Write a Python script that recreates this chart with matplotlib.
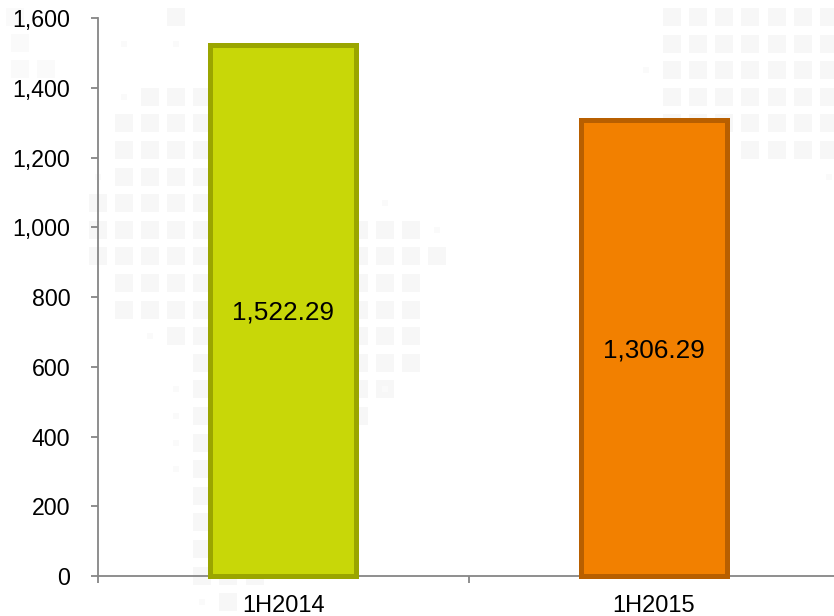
import matplotlib
matplotlib.use('Agg')
import matplotlib.pyplot as plt
from matplotlib.patches import Rectangle
from matplotlib.ticker import FuncFormatter

plt.rcParams['font.family'] = ['Liberation Sans', 'DejaVu Sans']

periods = ['1H2014', '1H2015']
values = [1522.29, 1306.29]
value_labels = ['1,522.29', '1,306.29']
fill_colors = ['#C8D708', '#F28000']
edge_colors = ['#9AA500', '#B85F00']
y_ticks = [0, 200, 400, 600, 800, 1000, 1200, 1400, 1600]

# mapa de fundo: linha -> colunas da grade de quadradinhos
map_squares = {
    0: [3, 22, 23, 24, 25, 26, 27, 28],
    1: [22, 23, 24, 25, 26, 27, 28],
    2: [22, 23, 24, 25, 26, 27, 28],
    3: [2, 3, 4, 22, 23, 24, 25, 26, 27, 28],
    4: [1, 2, 3, 4, 22, 23, 24, 25, 26, 27, 28],
    5: [1, 2, 3, 4, 25, 26, 27, 28],
    6: [1, 2, 3, 4],
    7: [0, 1, 2, 3, 4],
    8: [0, 1, 2, 3, 4, 10, 11, 12],
    9: [0, 1, 2, 3, 4, 10, 11, 12, 13],
    10: [1, 2, 3, 4, 10, 11, 12],
    11: [1, 2, 3, 4, 10, 11, 12],
    12: [3, 4, 10, 11, 12],
    13: [4, 10, 11, 12],
    14: [4, 10, 11],
    15: [4, 10],
    16: [4],
    17: [4],
    18: [4],
    19: [4],
    20: [4],
    21: [4, 5, 6],
    22: [5],
}
map_dots = [(1, 1), (1, 3), (3, 1), (6, 0), (7, 11), (12, 2), (14, 3), (14, 11),
            (15, 3), (16, 3), (17, 3), (22, 4), (8, 13), (2, 21), (6, 28)]
corner_squares = [(15, 17), (20, 43), (20, 69), (46, 69)]


def desenhar_fundo(fig):
    bg = fig.add_axes([0, 0, 1, 1], zorder=0)
    bg.set_xlim(0, 834)
    bg.set_ylim(616, 0)
    bg.axis('off')
    for row, cols in map_squares.items():
        for col in cols:
            x = 98 + 26.1 * col
            y = 17 + 26.6 * row
            bg.add_patch(Rectangle((x - 9, y - 9), 18, 18, fc='#F7F7F7', ec='none'))
    for row, col in map_dots:
        x = 98 + 26.1 * col
        y = 17 + 26.6 * row
        bg.add_patch(Rectangle((x - 3, y - 3), 6, 6, fc='#FAFAFA', ec='none'))
    for x, y in corner_squares:
        bg.add_patch(Rectangle((x - 9, y - 9), 18, 18, fc='#FAFAFA', ec='none'))


def plotar_grafico():
    fig = plt.figure(figsize=(8.34, 6.16), dpi=100)
    desenhar_fundo(fig)

    # o eixo x continua além da borda direita da figura, como no original
    ax = fig.add_axes([98 / 834, 1 - 576 / 616, 741 / 834, 558 / 616], zorder=1)
    ax.patch.set_alpha(0)

    positions = [0.5, 1.5]
    ax.bar(positions, values, width=0.394, color=fill_colors, edgecolor=edge_colors,
           linewidth=3.6, zorder=3, clip_on=False)
    for pos, val, label in zip(positions, values, value_labels):
        ax.annotate(label, (pos, val / 2), xytext=(0, -1.5), textcoords='offset points',
                    ha='center', va='center', fontsize=18.8, color='black', zorder=4)

    ax.set_xlim(0, 2)
    ax.set_ylim(0, 1600)
    ax.set_yticks(y_ticks)
    ax.yaxis.set_major_formatter(FuncFormatter(lambda v, _: f'{v:,.0f}'))
    ax.set_xticks([0, 1, 2])
    ax.set_xticklabels([])
    ax.set_xticks(positions, minor=True)
    ax.set_xticklabels(periods, minor=True)

    for side in ['top', 'right']:
        ax.spines[side].set_visible(False)
    for side in ['left', 'bottom']:
        ax.spines[side].set_color('#868686')
        ax.spines[side].set_linewidth(1.3)

    ax.tick_params(axis='y', which='major', length=5, width=1.3, color='#868686',
                   labelsize=16.7, labelcolor='black', pad=15)
    ax.tick_params(axis='x', which='major', length=5, width=1.3, color='#868686')
    ax.tick_params(axis='x', which='minor', length=0, labelsize=17, labelcolor='black', pad=14)

    fig.savefig('out.png', dpi=100)


def main():
    plotar_grafico()


if __name__ == '__main__':
    main()
